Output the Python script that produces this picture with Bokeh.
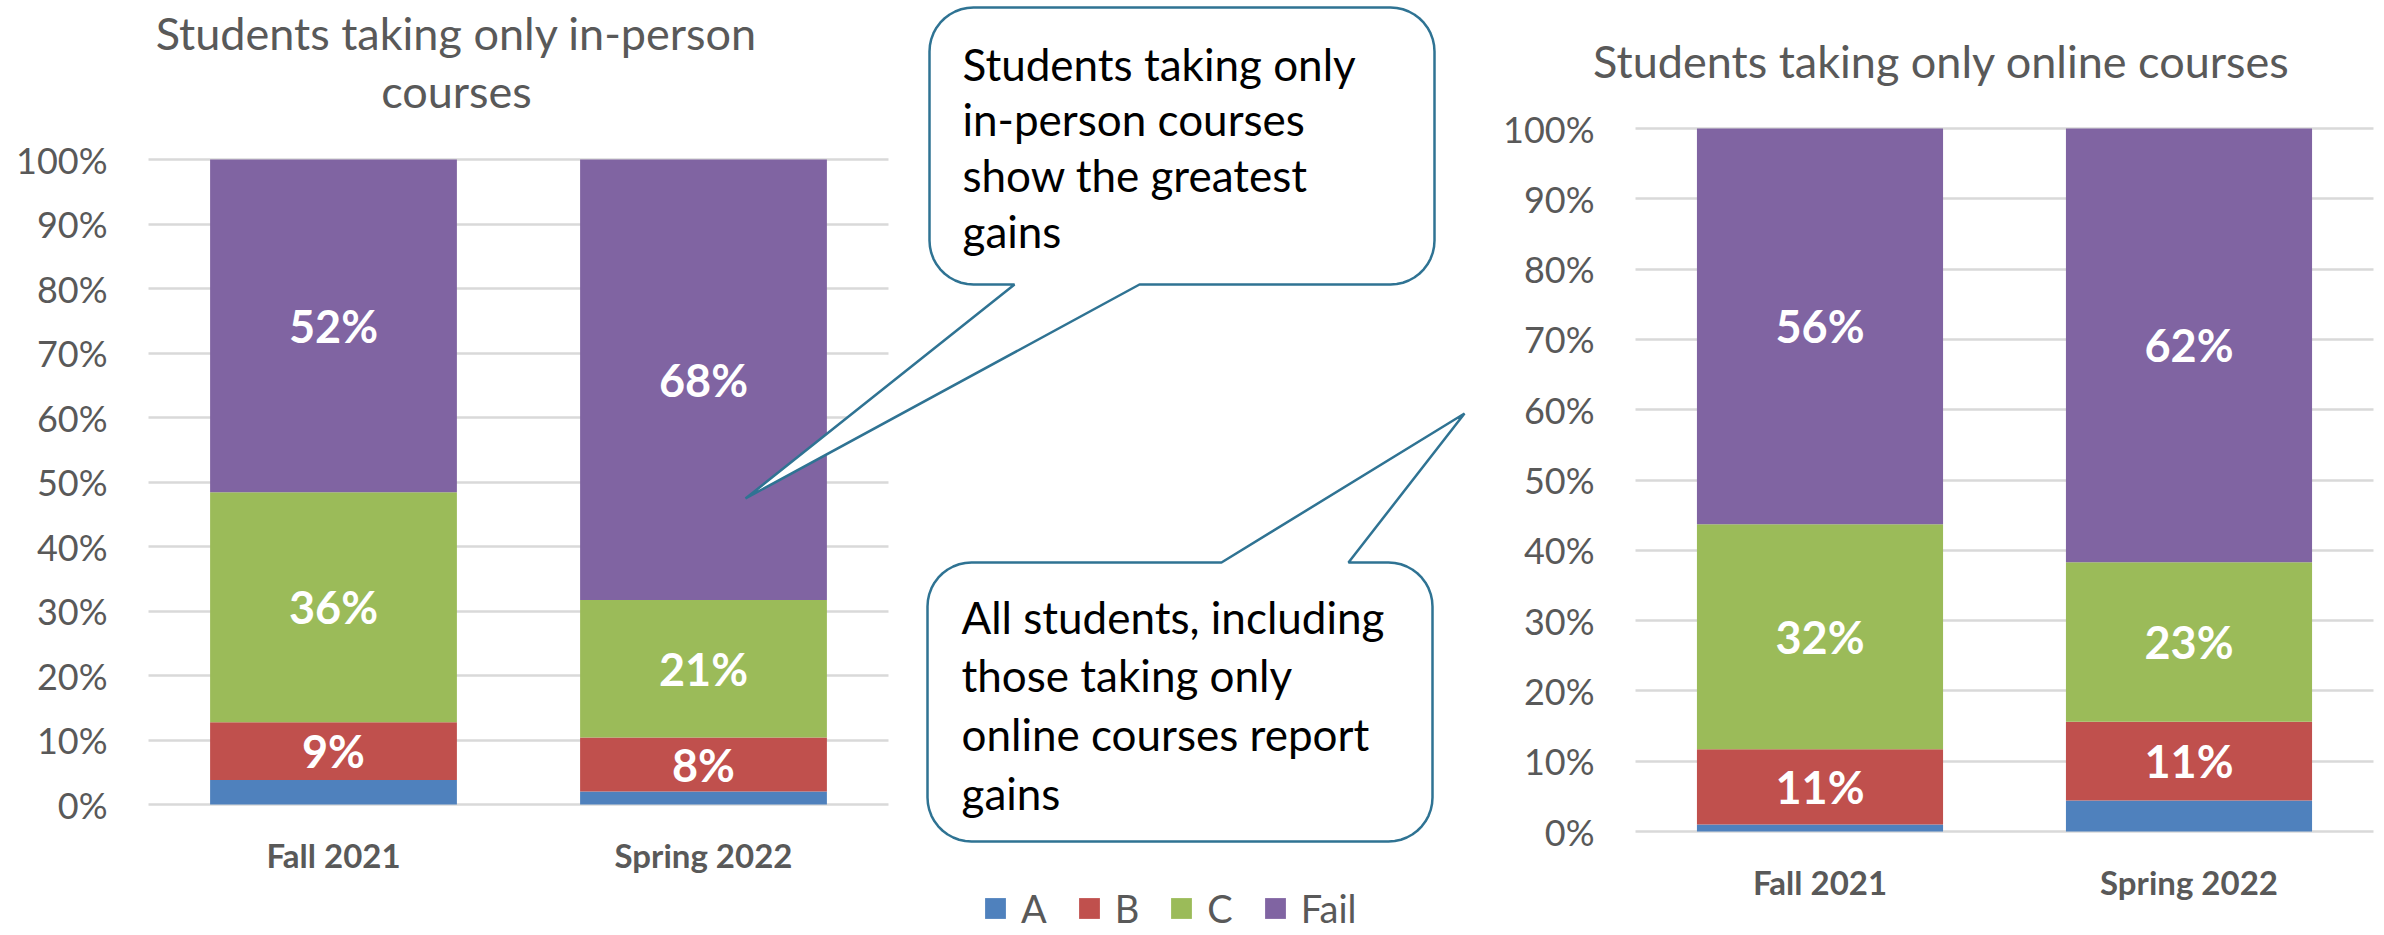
import math
import numpy as np
from bokeh.plotting import figure
from bokeh.models import (ColumnDataSource, FixedTicker, PrintfTickFormatter,
                          Range1d, Legend, LegendItem)
from bokeh.layouts import row
from bokeh.embed import file_html
from bokeh.resources import INLINE
from bokeh.core.properties import value

# ---------------- data ----------------
periods = ["Fall 2021", "Spring 2022"]
grades = ["A", "B", "C", "Fail"]
colors = ["#4F81BD", "#C0504D", "#9BBB59", "#8064A2"]

inperson_A = [3.8, 2.0]
inperson_B = [8.95, 8.4]
inperson_C = [35.65, 21.3]
inperson_Fail = [51.6, 68.3]

online_A = [1.0, 4.4]
online_B = [10.7, 11.2]
online_C = [32.0, 22.7]
online_Fail = [56.3, 61.7]

y_ticks = list(range(0, 101, 10))

title_left = ["Students taking only in-person", "courses"]
title_right = ["Students taking only online courses"]
callout_top = ["Students taking only", "in-person courses", "show the greatest", "gains"]
callout_bottom = ["All students, including", "those taking only", "online courses report", "gains"]

GRAY = "#595959"
GRID = "#D9D9D9"
CALLOUT = "#2F7393"
FONT = "Lato"

PAGE_TOP = 0
PAGE_BOTTOM = 935


def make_chart(vals, page_left, width, grid_left, slot, y0_px, y100_px):
    scale = (y0_px - y100_px) / 100.0
    x_start = 0.5 - (grid_left - page_left) / slot
    x_end = 0.5 + (page_left + width - grid_left) / slot
    y_start = (y0_px - PAGE_BOTTOM) / scale
    y_end = (y0_px - PAGE_TOP) / scale

    p = figure(width=width, height=PAGE_BOTTOM - PAGE_TOP,
               x_range=Range1d(x_start, x_end), y_range=Range1d(y_start, y_end),
               output_backend="svg", toolbar_location=None, min_border=0)
    p.outline_line_color = None
    p.background_fill_color = "white"
    p.border_fill_color = "white"

    # y axis drawn at the left end of the gridlines
    ya = p.yaxis[0]
    ya.fixed_location = 0.5
    ya.ticker = FixedTicker(ticks=y_ticks)
    ya.formatter = PrintfTickFormatter(format="%d%%")
    ya.axis_line_color = None
    ya.major_tick_line_color = None
    ya.minor_tick_line_color = None
    ya.major_tick_out = 0
    ya.major_tick_in = 0
    ya.major_label_standoff = 41
    ya.major_label_text_font = FONT
    ya.major_label_text_font_size = "36px"
    ya.major_label_text_color = GRAY

    # x axis (category labels) drawn at the 0% line
    xa = p.xaxis[0]
    xa.ticker = FixedTicker(ticks=[i + 1 for i in range(len(periods))])
    xa.major_label_overrides = {i + 1: name for i, name in enumerate(periods)}
    xa.fixed_location = 0
    xa.axis_line_color = None
    xa.major_tick_line_color = None
    xa.minor_tick_line_color = None
    xa.major_tick_out = 0
    xa.major_tick_in = 0
    xa.major_label_standoff = 30
    xa.major_label_text_font = FONT
    xa.major_label_text_font_style = "bold"
    xa.major_label_text_font_size = "33px"
    xa.major_label_text_color = GRAY

    p.xgrid.visible = False
    p.ygrid.ticker = FixedTicker(ticks=y_ticks)
    p.ygrid.grid_line_color = GRID
    p.ygrid.grid_line_width = 2.5
    p.ygrid.cross_bounds = (0.5, 0.5 + len(periods))

    data = {"x": [i + 1 for i in range(len(periods))]}
    for g, v in zip(grades, vals):
        data[g] = v
    src = ColumnDataSource(data)
    rs = p.vbar_stack(grades, x="x", width=0.667, color=colors, line_color=None,
                      source=src)

    # data labels (B, C, Fail)
    lxs, lys, ltx = [], [], []
    for j in range(len(periods)):
        bottom = 0.0
        for gi, g in enumerate(grades):
            v = vals[gi][j]
            if g != "A":
                lxs.append(j + 1)
                lys.append(bottom + v / 2.0)
                ltx.append(f"{round(v)}%")
            bottom += v
    p.text(x=lxs, y=lys, text=ltx, text_color="white", text_font=value(FONT),
           text_font_style="bold", text_font_size="45px",
           text_align="center", text_baseline="middle")

    def px2x(px):
        return 0.5 + (px - grid_left) / slot

    def py2y(py):
        return (y0_px - py) / scale

    return p, rs, px2x, py2y


def callout_points(l, t, r, b, rad, side, base1, base2, tip, n=12):
    def arc(cx, cy, a0, a1):
        return [(cx + rad * math.cos(math.radians(a)),
                 cy + rad * math.sin(math.radians(a)))
                for a in np.linspace(a0, a1, n)]
    pts = []
    pts += arc(l + rad, t + rad, 180, 270)
    if side == "top":
        pts += [(base1, t), tip, (base2, t)]
    pts += arc(r - rad, t + rad, 270, 360)
    pts += arc(r - rad, b - rad, 0, 90)
    if side == "bottom":
        pts += [(base2, b), tip, (base1, b)]
    pts += arc(l + rad, b - rad, 90, 180)
    return pts


vals_left = [inperson_A, inperson_B, inperson_C, inperson_Fail]
vals_right = [online_A, online_B, online_C, online_Fail]

pl, rs_l, lx, ly = make_chart(vals_left, page_left=0, width=1482, grid_left=148,
                              slot=370, y0_px=804, y100_px=159)
pr, rs_r, rx, ry = make_chart(vals_right, page_left=1482, width=902, grid_left=1635,
                              slot=369, y0_px=831, y100_px=128)

# titles
for i, line in enumerate(title_left):
    pl.text(x=[lx(456)], y=[ly(32 + 58 * i)], text=[line], text_color=GRAY,
            text_font=value(FONT), text_font_size="45px",
            text_align="center", text_baseline="middle")
pr.text(x=[rx(1941)], y=[ry(60)], text=title_right, text_color=GRAY,
        text_font=value(FONT), text_font_size="45px",
        text_align="center", text_baseline="middle")

# callouts
c1 = callout_points(929, 7, 1434, 284, 44, "bottom", 1014, 1139, (745, 498))
c2 = callout_points(927, 562, 1432, 841, 44, "top", 1221, 1348, (1464, 413))
for pts in (c1, c2):
    pl.patch([lx(a) for a, _ in pts], [ly(b) for _, b in pts], fill_color="white",
             line_color=CALLOUT, line_width=2.5)

for i, line in enumerate(callout_top):
    pl.text(x=[lx(962)], y=[ly(63 + 55.7 * i)], text=[line], text_color="black",
            text_font=value(FONT), text_font_size="44px",
            text_align="left", text_baseline="middle")
for i, line in enumerate(callout_bottom):
    pl.text(x=[lx(961)], y=[ly(616 + 58.7 * i)], text=[line], text_color="black",
            text_font=value(FONT), text_font_size="44px",
            text_align="left", text_baseline="middle")

# legend
legend = Legend(items=[LegendItem(label=g, renderers=[r]) for g, r in zip(grades, rs_l)],
                orientation="horizontal", location=(982, 4),
                glyph_width=26, glyph_height=26, label_standoff=13, spacing=29,
                padding=0, margin=0, border_line_color=None,
                background_fill_alpha=0, label_text_font=FONT,
                label_text_font_size="38px", label_text_color=GRAY)
pl.add_layout(legend)

layout = row(pl, pr)
open("out.html", "w").write(file_html(layout, INLINE))
